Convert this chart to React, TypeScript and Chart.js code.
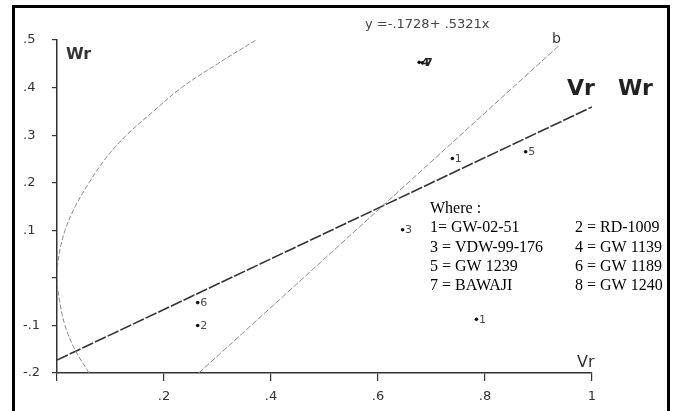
import React, { useEffect, useRef } from 'react';
import { Chart, registerables } from 'chart.js';

Chart.register(...registerables);

// ---- data ----
const xTicks = [0, 0.2, 0.4, 0.6, 0.8, 1];
const xTickLabels = ['', '.2', '.4', '.6', '.8', '1'];
const yTicks = [-0.2, -0.1, 0, 0.1, 0.2, 0.3, 0.4, 0.5];
const yTickLabels = ['-.2', '-.1', '', '.1', '.2', '.3', '.4', '.5'];

const pointLabels = ['4', '7', '1', '5', '3', '6', '2', '1'];
const pointVr = [0.677, 0.683, 0.739, 0.876, 0.646, 0.263, 0.263, 0.784];
const pointWr = [0.453, 0.452, 0.251, 0.265, 0.101, -0.052, -0.1, -0.087];

const parabolaVr = [0.06, 0.033, 0.015, 0.005, 0, 0.004, 0.015, 0.034, 0.06, 0.09, 0.13, 0.18, 0.233, 0.3, 0.372];
const parabolaWr = [-0.2, -0.15, -0.1, -0.05, 0, 0.05, 0.1, 0.15, 0.2, 0.25, 0.3, 0.35, 0.4, 0.45, 0.5];

const regVr = [0, 1];
const regWr = [-0.1728, 0.3593];

const bVr = [0.265, 0.94];
const bWr = [-0.2, 0.49];

const equationText = 'y =-.1728+ .5321x';
const legendTitle = 'Where :';
const legendLeft = ['1= GW-02-51', '3 = VDW-99-176', '5 = GW 1239', '7 = BAWAJI'];
const legendRight = ['2 = RD-1009', '4 = GW 1139', '6 = GW 1189', '8 = GW 1240'];

const zip = (xs: number[], ys: number[]) => xs.map((x, i) => ({ x, y: ys[i] }));

const SANS = '"DejaVu Sans", sans-serif';
const SERIF = '"Liberation Serif", "Times New Roman", serif';

const decorPlugin = {
  id: 'decor',
  afterDraw(chart: any) {
    const ctx = chart.ctx as CanvasRenderingContext2D;
    ctx.save();
    // frame
    ctx.strokeStyle = '#000';
    ctx.lineWidth = 3;
    ctx.strokeRect(13.5, 6.5, 655, 430);

    // point labels
    const meta = chart.getDatasetMeta(3);
    meta.data.forEach((el: any, i: number) => {
      const lbl = pointLabels[i];
      const strong = lbl === '4' || lbl === '7';
      ctx.font = (strong ? 'bold 11px ' : '11px ') + SANS;
      ctx.fillStyle = strong ? '#222' : '#4a4a4a';
      ctx.textAlign = 'left';
      ctx.textBaseline = 'middle';
      ctx.fillText(lbl, el.x + 2.5, el.y + 0.5);
    });

    // equation
    ctx.fillStyle = '#444';
    ctx.font = '13px ' + SANS;
    ctx.textAlign = 'left';
    ctx.textBaseline = 'alphabetic';
    ctx.fillText(equationText, 365, 28);

    // b
    ctx.fillStyle = '#333';
    ctx.font = '14px ' + SANS;
    ctx.fillText('b', 552, 43);

    // axis titles
    ctx.fillStyle = '#333';
    ctx.font = 'bold 16px ' + SANS;
    ctx.fillText('Wr', 66, 59);
    ctx.font = '16px ' + SANS;
    ctx.fillText('Vr', 577, 367);

    // big Vr Wr
    ctx.fillStyle = '#222';
    ctx.font = 'bold 22px ' + SANS;
    ctx.fillText('Vr', 567, 95);
    ctx.fillText('Wr', 618, 95);

    // legend
    ctx.fillStyle = '#000';
    ctx.font = '16px ' + SERIF;
    ctx.fillText(legendTitle, 430, 213);
    const baselines = [232, 252, 271, 290];
    legendLeft.forEach((t, i) => ctx.fillText(t, 430, baselines[i]));
    legendRight.forEach((t, i) => ctx.fillText(t, 575, baselines[i]));
    ctx.restore();
  },
};

export default function App() {
  const ref = useRef<HTMLCanvasElement>(null);
  useEffect(() => {
    document.body.style.margin = '0';
    const chart = new Chart(ref.current!, {
      type: 'scatter',
      data: {
        datasets: [
          {
            data: zip(parabolaVr, parabolaWr),
            showLine: true,
            borderColor: '#8a8a8a',
            borderWidth: 1,
            borderDash: [5, 2],
            pointRadius: 0,
            tension: 0.35,
            fill: false,
          },
          {
            data: zip(bVr, bWr),
            showLine: true,
            borderColor: '#8a8a8a',
            borderWidth: 1,
            borderDash: [6, 2],
            pointRadius: 0,
            fill: false,
          },
          {
            data: zip(regVr, regWr),
            showLine: true,
            borderColor: '#333',
            borderWidth: 1.6,
            borderDash: [12, 2],
            pointRadius: 0,
            fill: false,
          },
          {
            data: zip(pointVr, pointWr),
            showLine: false,
            pointRadius: 1.8,
            pointBackgroundColor: '#111',
            pointBorderColor: '#111',
            pointBorderWidth: 0,
          },
        ],
      },
      options: {
        responsive: false,
        animation: false,
        layout: { padding: { left: 23, top: 40, right: 82, bottom: 0 } },
        plugins: { legend: { display: false }, tooltip: { enabled: false }, title: { display: false } },
        scales: {
          x: {
            type: 'linear',
            min: 0,
            max: 1,
            afterBuildTicks: (s: any) => {
              s.ticks = xTicks.map((v) => ({ value: v }));
            },
            afterFit: (s: any) => {
              s.height = 38;
            },
            ticks: {
              autoSkip: false,
              maxRotation: 0,
              padding: 8,
              color: '#333',
              font: { family: SANS, size: 13 },
              callback: (_v: any, i: number) => xTickLabels[i],
            },
            grid: { display: true, drawOnChartArea: false, drawTicks: true, tickLength: 8, color: '#333', lineWidth: 1.2 },
            border: { display: true, color: '#333', width: 1.5 },
          },
          y: {
            type: 'linear',
            min: -0.2,
            max: 0.5,
            afterBuildTicks: (s: any) => {
              s.ticks = yTicks.map((v) => ({ value: v }));
            },
            afterFit: (s: any) => {
              s.width = 34;
            },
            ticks: {
              autoSkip: false,
              crossAlign: 'far',
              color: '#333',
              font: { family: SANS, size: 13 },
              callback: (_v: any, i: number) => yTickLabels[i],
            },
            grid: { display: true, drawOnChartArea: false, drawTicks: true, tickLength: 5, color: '#333', lineWidth: 1.2 },
            border: { display: true, color: '#333', width: 1.5 },
          },
        },
      },
      plugins: [decorPlugin],
    });
    return () => chart.destroy();
  }, []);
  return (
    <div style={{ width: 674, height: 411, overflow: 'hidden', background: '#fff' }}>
      <canvas ref={ref} width={674} height={411} style={{ display: 'block' }} />
    </div>
  );
}
